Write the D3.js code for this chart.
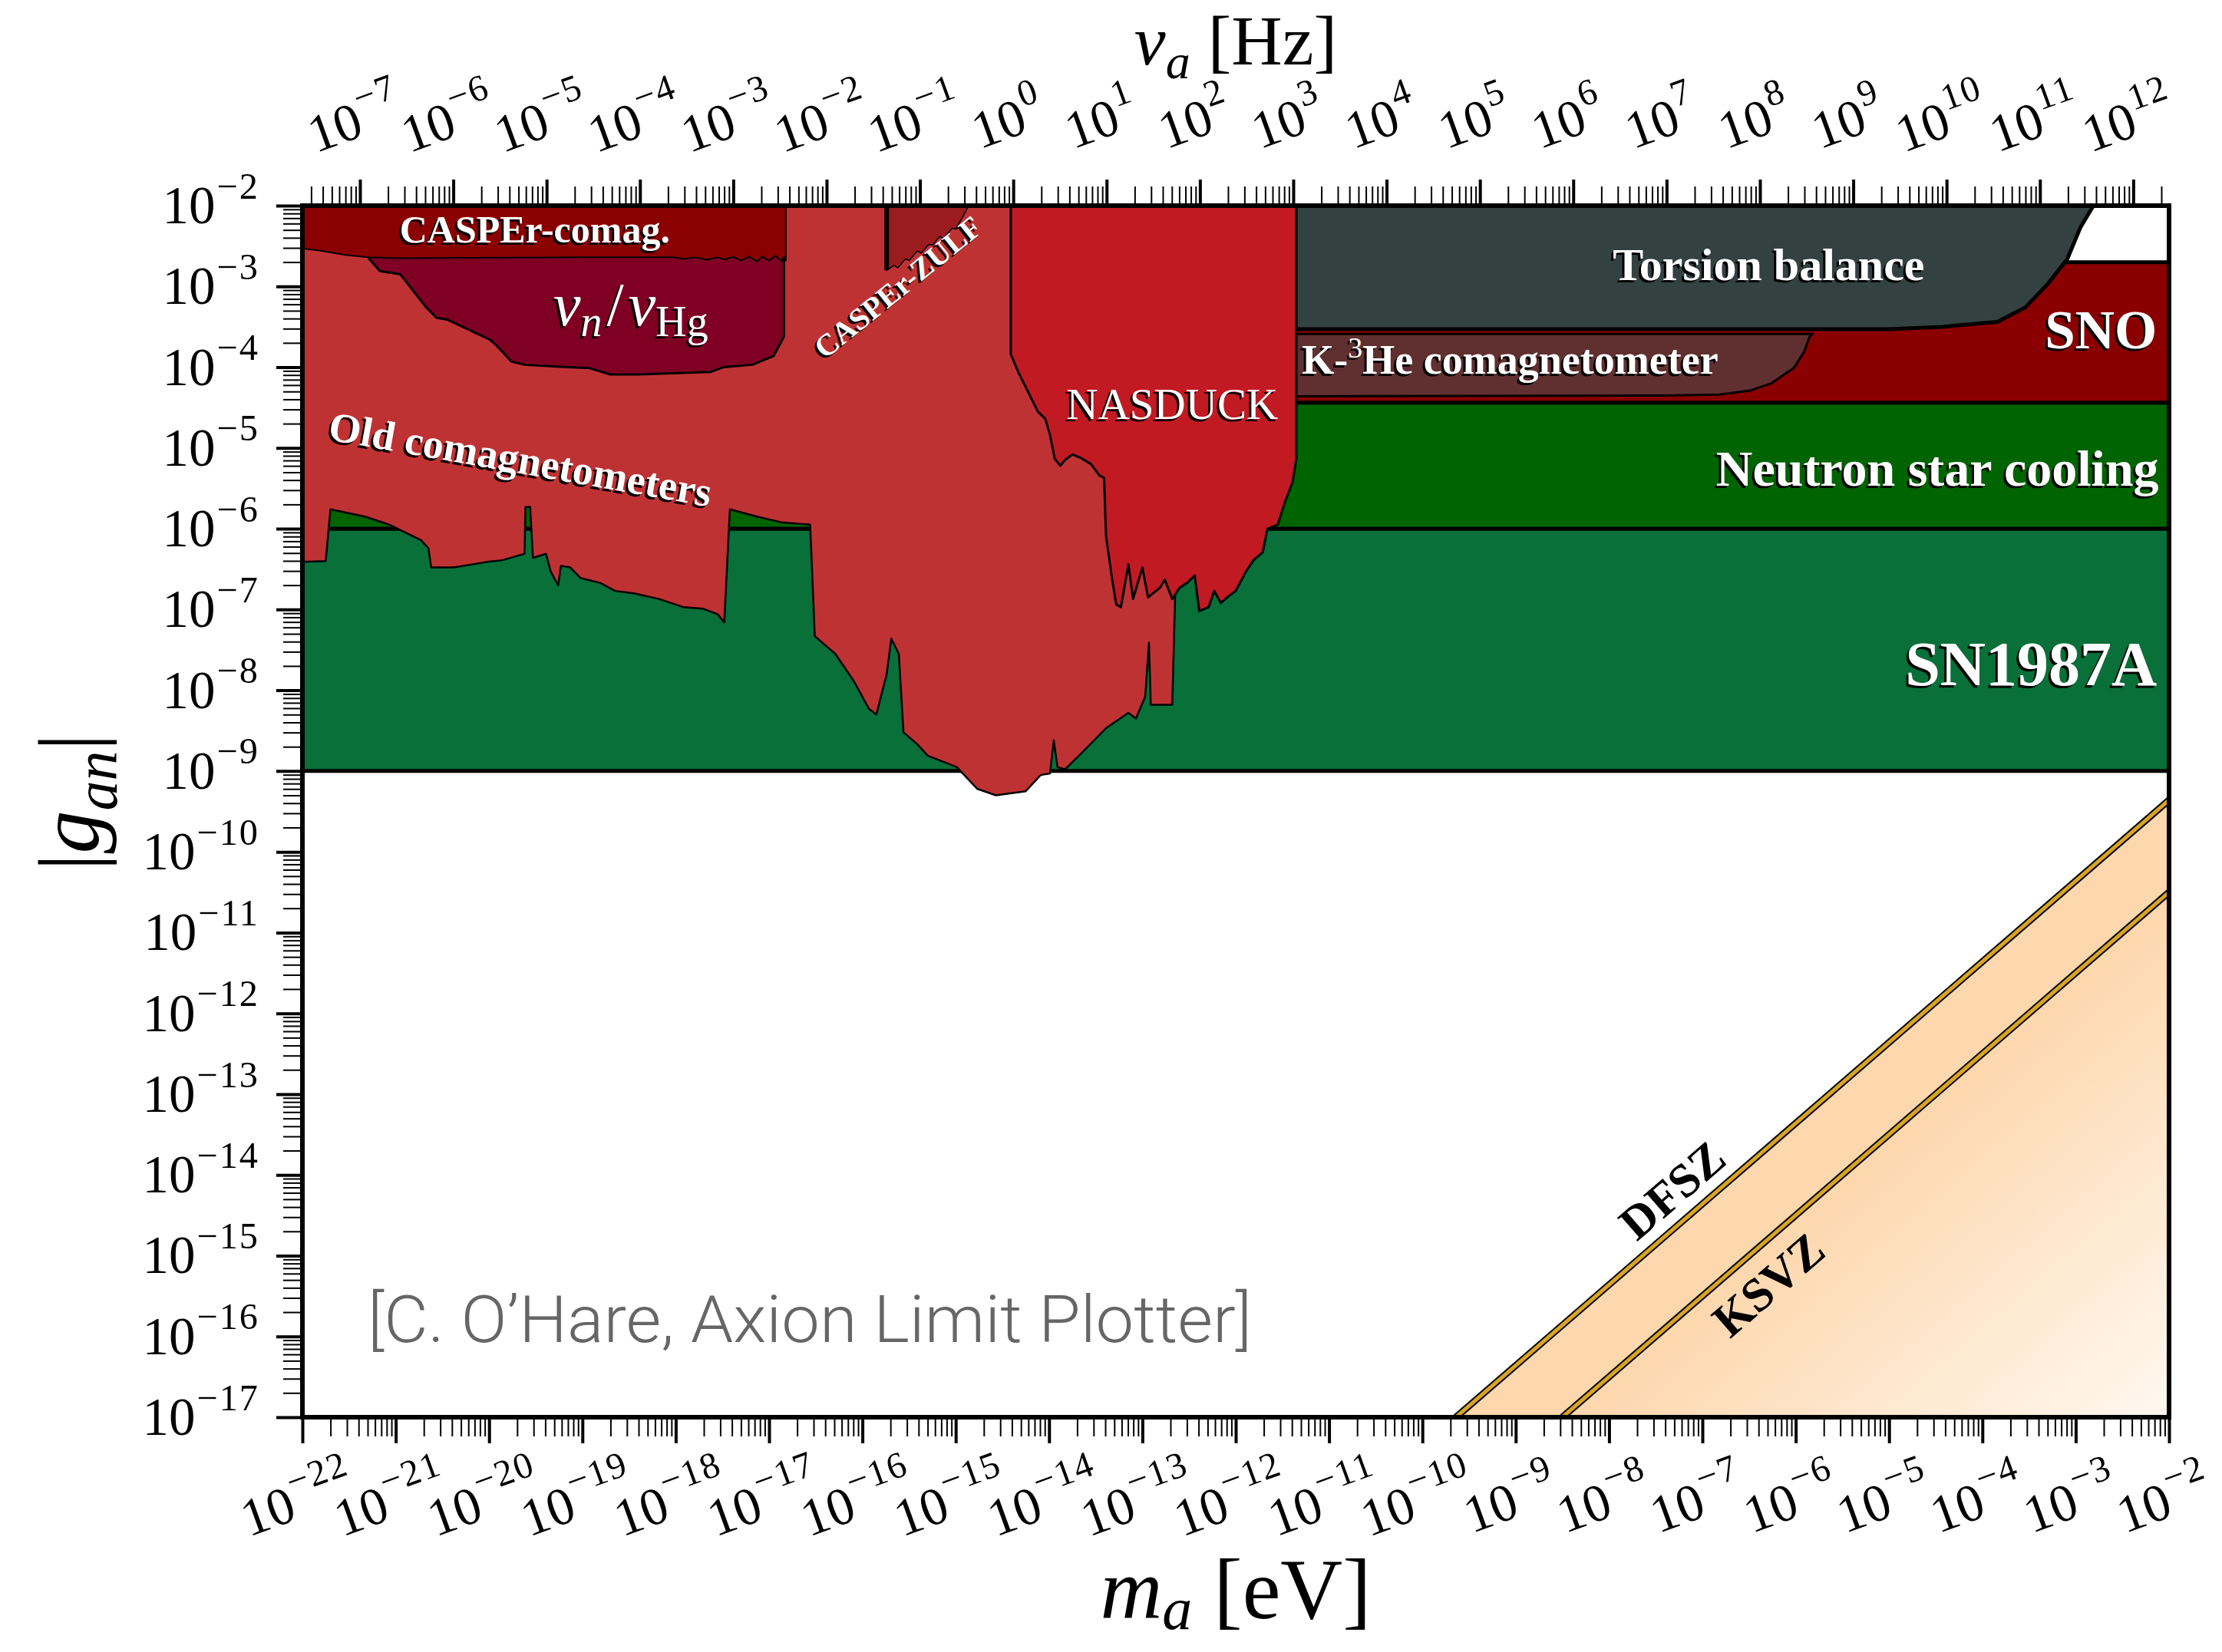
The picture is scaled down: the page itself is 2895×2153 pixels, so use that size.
<!DOCTYPE html>
<html>
<head>
<meta charset="utf-8">
<script src="https://d3js.org/d3.v7.min.js"></script>
<style>
  body { margin: 0; background: #fff; }
  svg { display: block; }
</style>
</head>
<body>
<div id="chart-area"></div>
<script>
const W = 2895
const H = 2153
const MARGIN = {LEFT: 394, RIGHT: 69, TOP: 268, BOTTOM: 306}
const WIDTH = W - MARGIN.LEFT - MARGIN.RIGHT
const HEIGHT = H - MARGIN.TOP - MARGIN.BOTTOM
const H_EV = 4.135667e-15   // eV*s, mass -> frequency

// tick exponents
const massExp = d3.range(-22, -1)
const couplingExp = d3.range(-17, -1)
const freqExp = d3.range(-7, 13)

// limits, points are [log10 m_a/eV, log10 |g_an|]
const sn1987a = [[-22, -9], [-2, -9], [-2, -6], [-22, -6]]
const nsCooling = [[-22, -6], [-2, -6], [-2, -4.44], [-22, -4.44]]
const sno = [[-22, -4.44], [-2, -4.44], [-2, -2.70], [-22, -2.70]]

const k3he = [
  [-11.36, -3.59], [-5.82, -3.59], [-5.85, -3.62], [-5.91, -3.81], [-6.02, -4.01], [-6.26, -4.20],
  [-6.49, -4.29], [-6.82, -4.34], [-7.39, -4.35], [-11.36, -4.36]
]

const torsion = [
  [-11.36, -2], [-11.36, -3.53], [-5.0, -3.53], [-4.43, -3.50], [-3.84, -3.44], [-3.54, -3.26],
  [-3.30, -2.97], [-3.09, -2.66], [-2.95, -2.27], [-2.81, -2]
]

const oldComag = [
  [-22, -2], [-22, -6.41], [-21.75, -6.40], [-21.70, -5.76], [-21.33, -5.85], [-21.07, -5.95],
  [-20.73, -6.14], [-20.65, -6.24], [-20.62, -6.48], [-20.38, -6.48], [-20.17, -6.44],
  [-20.02, -6.41], [-19.86, -6.39], [-19.71, -6.34], [-19.62, -6.31], [-19.61, -5.73],
  [-19.56, -5.73], [-19.53, -6.36], [-19.39, -6.31], [-19.34, -6.53], [-19.26, -6.70],
  [-19.23, -6.46], [-19.13, -6.48], [-19.02, -6.61], [-18.81, -6.67], [-18.65, -6.77],
  [-18.45, -6.80], [-18.18, -6.87], [-17.92, -6.97], [-17.71, -6.99], [-17.55, -7.06],
  [-17.48, -7.16], [-17.42, -5.76], [-17.13, -5.85], [-16.87, -5.92], [-16.56, -5.95],
  [-16.51, -7.33], [-16.29, -7.55], [-16.09, -7.89], [-15.93, -8.23], [-15.85, -8.30],
  [-15.74, -7.80], [-15.69, -7.36], [-15.61, -7.55], [-15.56, -8.52], [-15.41, -8.67],
  [-15.30, -8.81], [-14.99, -8.95], [-14.77, -9.22], [-14.57, -9.30], [-14.25, -9.25],
  [-14.09, -9.05], [-13.99, -9.03], [-13.95, -8.62], [-13.91, -8.95], [-13.83, -8.98],
  [-13.68, -8.81], [-13.39, -8.47], [-13.15, -8.28], [-13.07, -8.35], [-12.97, -8.08],
  [-12.93, -7.41], [-12.91, -8.18], [-12.68, -8.18], [-12.65, -6.87], [-12.65, -2]
]

const nasduck = [
  [-14.41, -2], [-14.41, -3.84], [-14.33, -4.06], [-14.12, -4.55], [-14.04, -4.64], [-13.99, -4.84],
  [-13.94, -5.13], [-13.88, -5.22], [-13.83, -5.15], [-13.75, -5.08], [-13.65, -5.13],
  [-13.55, -5.20], [-13.46, -5.34], [-13.41, -5.37], [-13.39, -6.09], [-13.33, -6.58],
  [-13.28, -6.94], [-13.23, -6.97], [-13.15, -6.44], [-13.10, -6.87], [-13.00, -6.48],
  [-12.94, -6.85], [-12.81, -6.73], [-12.76, -6.63], [-12.68, -6.87], [-12.60, -6.73],
  [-12.52, -6.67], [-12.44, -6.58], [-12.39, -7.02], [-12.29, -6.97], [-12.23, -6.77],
  [-12.16, -6.92], [-12.07, -6.83], [-12.00, -6.77], [-11.89, -6.53], [-11.81, -6.39],
  [-11.71, -6.29], [-11.66, -6.00], [-11.55, -5.95], [-11.47, -5.66], [-11.39, -5.42],
  [-11.35, -5.13], [-11.35, -2]
]

const nuHg = [
  [-21.29, -2.60], [-21.29, -2.65], [-21.17, -2.81], [-20.95, -2.85], [-20.87, -2.97], [-20.68, -3.25],
  [-20.56, -3.39], [-20.45, -3.41], [-19.99, -3.66], [-19.92, -3.73], [-19.76, -3.93],
  [-19.62, -3.97], [-19.16, -4.00], [-18.93, -4.01], [-18.70, -4.09], [-18.40, -4.09],
  [-17.63, -4.06], [-17.49, -4.00], [-17.18, -3.97], [-16.95, -3.86], [-16.84, -3.62],
  [-16.84, -2.60]
]

const casperComag = [
  [-22, -2], [-16.82, -2], [-16.82, -2.68], [-16.84, -2.63], [-16.87, -2.69], [-16.93, -2.62],
  [-17.00, -2.68], [-17.07, -2.63], [-17.13, -2.69], [-17.22, -2.63], [-17.30, -2.68],
  [-17.39, -2.63], [-17.47, -2.67], [-17.55, -2.64], [-17.67, -2.67], [-17.80, -2.64],
  [-17.92, -2.66], [-18.02, -2.64], [-18.99, -2.64], [-20.96, -2.65], [-21.29, -2.64],
  [-21.54, -2.61], [-21.79, -2.56], [-22, -2.53]
]

const casperZulf = [
  [-15.74, -2], [-15.74, -2.80], [-15.66, -2.74], [-15.62, -2.77], [-15.54, -2.66],
  [-15.50, -2.68], [-15.41, -2.56], [-15.37, -2.59], [-15.29, -2.48], [-15.25, -2.49],
  [-15.17, -2.38], [-15.13, -2.41], [-15.04, -2.28], [-15.00, -2.29], [-14.92, -2.13],
  [-14.86, -2]
]

// QCD axion lines
const dfsz = [[-9.64, -17], [-2, -9.36]]
const ksvz = [[-8.50, -17], [-2, -10.50]]

const svg = d3.select("#chart-area").append("svg")
  .attr("width", W)
  .attr("height", H)
  .style("font-family", "'Liberation Serif', 'DejaVu Serif', serif")

const defs = svg.append("defs")
defs.append("clipPath").attr("id", "plot-clip")
  .append("rect").attr("width", WIDTH).attr("height", HEIGHT)

const g = svg.append("g")
  .attr("transform", `translate(${MARGIN.LEFT}, ${MARGIN.TOP})`)

const x = d3.scaleLog().domain([1e-22, 1e-2]).range([0, WIDTH])
const y = d3.scaleLog().domain([1e-17, 1e-2]).range([HEIGHT, 0])
const xFreq = d3.scaleLog().domain([1e-22 / H_EV, 1e-2 / H_EV]).range([0, WIDTH])

const px = d => x(10 ** d[0])
const py = d => y(10 ** d[1])
const line = d3.line().x(px).y(py)
const shape = d => line(d) + "Z"

const plot = g.append("g").attr("clip-path", "url(#plot-clip)")

// QCD band, fading towards the corner
const k0 = [px(ksvz[0]), py(ksvz[0])]
const k1 = [px(ksvz[1]), py(ksvz[1])]
const kLen = Math.hypot(k1[0] - k0[0], k1[1] - k0[1])
const u = [(k1[0] - k0[0]) / kLen, (k1[1] - k0[1]) / kLen]
const tFoot = (WIDTH - k0[0]) * u[0] + (HEIGHT - k0[1]) * u[1]
const grad = defs.append("linearGradient")
  .attr("id", "qcd-fill")
  .attr("gradientUnits", "userSpaceOnUse")
  .attr("x1", k0[0] + tFoot * u[0]).attr("y1", k0[1] + tFoot * u[1])
  .attr("x2", WIDTH).attr("y2", HEIGHT)
grad.append("stop").attr("offset", 0).attr("stop-color", "#fdd7ad")
grad.append("stop").attr("offset", 1).attr("stop-color", "#fff8f0")

plot.append("path")
  .attr("d", shape([...dfsz, [-2, -17]]))
  .attr("fill", "url(#qcd-fill)")

const layers = [
  {pts: sn1987a, fill: "#087038", sw: 5},
  {pts: nsCooling, fill: "#006400", sw: 5},
  {pts: sno, fill: "#8a0000", sw: 5},
  {pts: k3he, fill: "#603030", sw: 3},
  {pts: torsion, fill: "#344141", sw: 5},
  {pts: oldComag, fill: "#bf3234", sw: 2.5},
  {pts: nasduck, fill: "#c21a23", sw: 3},
  {pts: nuHg, fill: "#7f0023", sw: 3},
  {pts: casperComag, fill: "#8b0000", sw: 2},
  {pts: casperZulf, fill: "#9b1b1e", sw: 1.5}
]

plot.selectAll("path.limit")
  .data(layers)
  .join("path")
  .attr("class", "limit")
  .attr("d", d => shape(d.pts))
  .attr("fill", d => d.fill)
  .attr("stroke", "#000")
  .attr("stroke-width", d => d.sw)
  .attr("stroke-linejoin", "round")

// thick left edge of CASPEr-ZULF
plot.append("path")
  .attr("d", line(casperZulf.slice(0, 2)))
  .attr("stroke", "#000")
  .attr("stroke-width", 6)

// DFSZ / KSVZ lines
;[dfsz, ksvz].forEach(l => {
  plot.append("path").attr("d", line(l)).attr("stroke", "#000").attr("stroke-width", 9).attr("fill", "none")
  plot.append("path").attr("d", line(l)).attr("stroke", "#d9a423").attr("stroke-width", 5).attr("fill", "none")
})

// labels with a dark shadow
function shadowLabel(pos, angle, opts, build) {
  const lg = g.append("g").attr("transform", `translate(${pos[0]}, ${pos[1]})`)
  ;[["#000", "translate(-3,3) "], ["#fff", ""]].forEach(([fill, shift]) => {
    const t = lg.append("text")
      .attr("transform", `${shift}rotate(${angle})`)
      .attr("fill", fill)
      .attr("text-anchor", opts.anchor || "middle")
      .attr("font-size", opts.size)
      .attr("font-weight", opts.weight || "bold")
    build(t)
  })
}
const at = (lm, lg) => [x(10 ** lm), y(10 ** lg)]
const plain = s => t => t.text(s)

shadowLabel(at(-19.51, -2.46), 0, {size: 50}, plain("CASPEr-comag."))
shadowLabel(at(-19.31, -3.48), 0, {size: 80, anchor: "start", weight: "normal"}, t => {
  t.append("tspan").attr("font-style", "italic").text("ν")
  t.append("tspan").attr("font-style", "italic").attr("font-size", 56).attr("dy", 14).text("n")
  t.append("tspan").attr("dy", -14).attr("dx", 6).text("/")
  t.append("tspan").attr("font-style", "italic").attr("dx", 6).text("ν")
  t.append("tspan").attr("font-size", 56).attr("dy", 14).text("Hg")
})
shadowLabel(at(-19.69, -5.31), 10, {size: 54}, plain("Old comagnetometers"))
shadowLabel(at(-15.55, -3.11), -39, {size: 40}, plain("CASPEr-ZULF"))
shadowLabel(at(-12.68, -4.64), 0, {size: 57, weight: "normal"}, plain("NASDUCK"))
shadowLabel(at(-6.29, -2.92), 0, {size: 60}, plain("Torsion balance"))
shadowLabel(at(-11.29, -4.08), 0, {size: 54, anchor: "start"}, t => {
  t.append("tspan").text("K-")
  t.append("tspan").attr("font-size", 38).attr("font-weight", "normal").attr("dy", -21).text("3")
  t.append("tspan").attr("dy", 21).text("He comagnetometer")
})
shadowLabel(at(-2.13, -3.77), 0, {size: 71, anchor: "end"}, plain("SNO"))
shadowLabel(at(-2.11, -5.47), 0, {size: 66, anchor: "end"}, plain("Neutron star cooling"))
shadowLabel(at(-2.13, -7.94), 0, {size: 82, anchor: "end"}, plain("SN1987A"))

const qcdAngle = Math.atan2(k1[1] - k0[1], k1[0] - k0[0]) * 180 / Math.PI
g.append("text")
  .attr("transform", `translate(${at(-7.21, -14.34)}) rotate(${qcdAngle})`)
  .attr("text-anchor", "middle").attr("font-size", 62).attr("font-weight", "bold")
  .text("DFSZ")
g.append("text")
  .attr("transform", `translate(${at(-6.18, -15.51)}) rotate(${qcdAngle})`)
  .attr("text-anchor", "middle").attr("font-size", 62).attr("font-weight", "bold")
  .text("KSVZ")

g.append("text")
  .attr("x", at(-21.30, 0)[0]).attr("y", at(0, -16.07)[1])
  .attr("font-family", "Roboto, 'Liberation Sans', sans-serif")
  .attr("font-weight", 300)
  .attr("font-size", 86)
  .attr("fill", "#666")
  .attr("textLength", 1152)
  .attr("lengthAdjust", "spacingAndGlyphs")
  .text("[C. O\u2019Hare, Axion Limit Plotter]")

// ticks
const minors = (lo, hi, dom) => d3.range(lo, hi + 1)
  .flatMap(e => d3.range(2, 10).map(k => k * 10 ** e))
  .filter(v => v >= dom[0] && v <= dom[1])

function tickAxis(axis, transform, majors, minorVals) {
  const a1 = g.append("g").attr("transform", transform)
    .call(axis.tickValues(majors).tickSize(34).tickFormat(""))
  a1.select(".domain").remove()
  a1.selectAll("line").attr("stroke-width", 4)
  const a2 = g.append("g").attr("transform", transform)
    .call(axis.tickValues(minorVals).tickSize(25).tickFormat(""))
  a2.select(".domain").remove()
  a2.selectAll("line").attr("stroke-width", 2)
}

tickAxis(d3.axisBottom(x), `translate(0, ${HEIGHT})`,
  massExp.map(e => 10 ** e), minors(-22, -3, x.domain()))
tickAxis(d3.axisTop(xFreq), "translate(0, 0)",
  freqExp.map(e => 10 ** e), minors(-8, 12, xFreq.domain()))
tickAxis(d3.axisLeft(y), "translate(0, 0)",
  couplingExp.map(e => 10 ** e), minors(-17, -3, y.domain()))

// frame
g.append("rect")
  .attr("width", WIDTH)
  .attr("height", HEIGHT)
  .attr("fill", "none")
  .attr("stroke", "#000")
  .attr("stroke-width", 6)

// tick labels
const BASE = 69
function powerLabel(t, e) {
  t.append("tspan").text("10")
  t.append("tspan")
    .attr("dy", -0.47 * BASE)
    .attr("dx", 2)
    .attr("font-size", BASE * 0.7)
    .attr("letter-spacing", 2)
    .text(e < 0 ? "\u2212" + (-e) : String(e))
}

g.append("g").selectAll("text")
  .data(massExp)
  .join("text")
  .attr("transform", e => `translate(${x(10 ** e) + 2}, ${HEIGHT + 130}) rotate(-20)`)
  .attr("text-anchor", "middle")
  .attr("font-size", BASE)
  .each(function (e) { powerLabel(d3.select(this), e) })

g.append("g").selectAll("text")
  .data(freqExp)
  .join("text")
  .attr("transform", e => `translate(${xFreq(10 ** e) + 2}, -90) rotate(-20)`)
  .attr("text-anchor", "middle")
  .attr("font-size", BASE)
  .each(function (e) { powerLabel(d3.select(this), e) })

g.append("g").selectAll("text")
  .data(couplingExp)
  .join("text")
  .attr("x", -56)
  .attr("y", e => y(10 ** e) + 23)
  .attr("text-anchor", "end")
  .attr("font-size", BASE)
  .each(function (e) { powerLabel(d3.select(this), e) })

// axis titles
const xTitle = g.append("text")
  .attr("x", WIDTH / 2)
  .attr("y", HEIGHT + 262)
  .attr("text-anchor", "middle")
  .attr("font-size", 112)
xTitle.append("tspan").attr("font-style", "italic").text("m")
xTitle.append("tspan").attr("font-style", "italic").attr("font-size", 78).attr("dy", 14).text("a")
xTitle.append("tspan").attr("dy", -14).text(" [eV]")

const topTitle = g.append("text")
  .attr("x", WIDTH / 2)
  .attr("y", -184)
  .attr("text-anchor", "middle")
  .attr("font-size", 92)
topTitle.append("tspan").attr("font-style", "italic").text("ν")
topTitle.append("tspan").attr("font-style", "italic").attr("font-size", 64).attr("dy", 18).text("a")
topTitle.append("tspan").attr("dy", -18).text(" [Hz]")

const yTitle = g.append("text")
  .attr("transform", `translate(-266, ${HEIGHT / 2 - 12}) rotate(-90)`)
  .attr("text-anchor", "middle")
  .attr("font-size", 112)
yTitle.append("tspan").text("|")
yTitle.append("tspan").attr("font-style", "italic").text("g")
yTitle.append("tspan").attr("font-style", "italic").attr("font-size", 78).attr("dy", 24).text("an")
yTitle.append("tspan").attr("dy", -24).text("|")
</script>
</body>
</html>
